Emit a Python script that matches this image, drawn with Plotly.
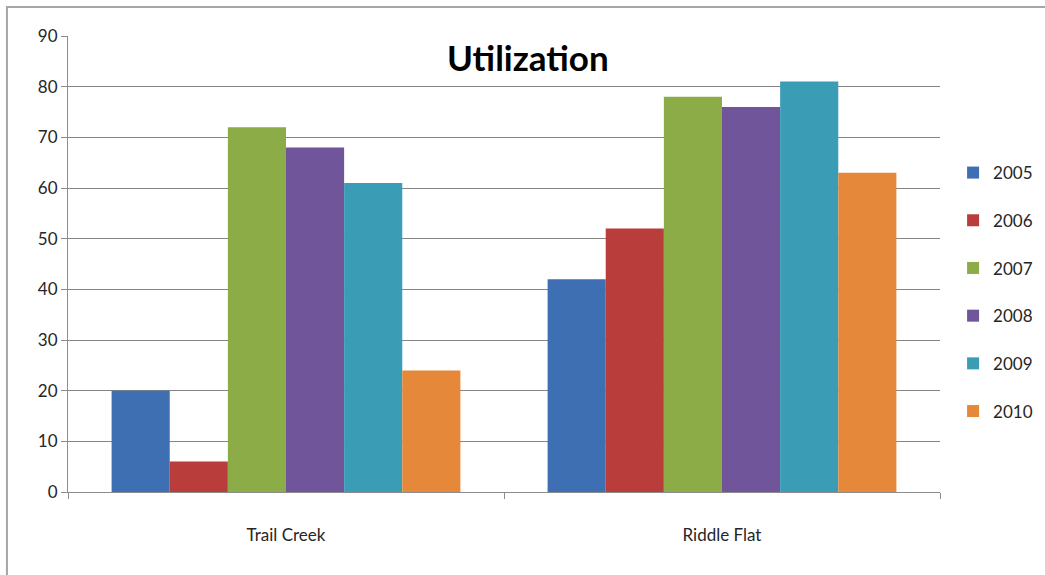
import plotly.graph_objects as go

# Utilization by site and year
sites = ["Trail Creek", "Riddle Flat"]
years = ["2005", "2006", "2007", "2008", "2009", "2010"]
util_2005 = [20, 42]
util_2006 = [6, 52]
util_2007 = [72, 78]
util_2008 = [68, 76]
util_2009 = [61, 81]
util_2010 = [24, 63]
series = [util_2005, util_2006, util_2007, util_2008, util_2009, util_2010]
colors = ["#3f6fb3", "#b83d3b", "#8bac46", "#71559b", "#3b9cb6", "#e5883a"]

y_ticks = [0, 10, 20, 30, 40, 50, 60, 70, 80, 90]

FONT = "Lato, Open Sans, sans-serif"

fig = go.Figure()
for yr, vals, col in zip(years, series, colors):
    fig.add_trace(go.Bar(
        name=yr, x=sites, y=vals,
        marker=dict(color=col, line=dict(width=0)),
        legendgroup=yr,
    ))

fig.update_layout(
    width=1045, height=575,
    margin=dict(l=68, r=105, t=36, b=83, autoexpand=False),
    paper_bgcolor="white", plot_bgcolor="white",
    barmode="group", bargap=0.2, bargroupgap=0,
    font=dict(family=FONT, size=17, color="#262626"),
    legend=dict(
        x=1.015, y=0.739, xanchor="left", yanchor="top",
        traceorder="grouped", tracegroupgap=22.6,
        bgcolor="rgba(0,0,0,0)",
        font=dict(size=17, color="#262626"),
        itemwidth=30,
    ),
    xaxis=dict(
        showline=True, linecolor="#8c8c8c", linewidth=1,
        ticks="outside", tickson="boundaries", ticklen=6, tickcolor="#8c8c8c",
        tickfont=dict(size=17), ticklabelstandoff=28,
    ),
    yaxis=dict(
        range=[0, 90], tickvals=y_ticks,
        showline=True, linecolor="#8c8c8c", linewidth=1,
        ticks="outside", ticklen=6, tickcolor="#8c8c8c",
        showgrid=True, gridcolor="#858585", gridwidth=1.2,
        zeroline=False, tickfont=dict(size=17),
    ),
    annotations=[dict(
        text="<b>Utilization</b>", xref="paper", yref="paper",
        x=0.528, y=0.955, xanchor="center", yanchor="middle",
        showarrow=False, font=dict(family=FONT, size=35, color="#000000"),
    )],
    shapes=[dict(
        type="rect", xref="paper", yref="paper",
        x0=-0.07, x1=1.25, y0=-0.3, y1=1.0636,
        line=dict(color="#a6a6a6", width=2), fillcolor="rgba(0,0,0,0)",
        layer="below",
    )],
)

fig.write_html("out.html")
